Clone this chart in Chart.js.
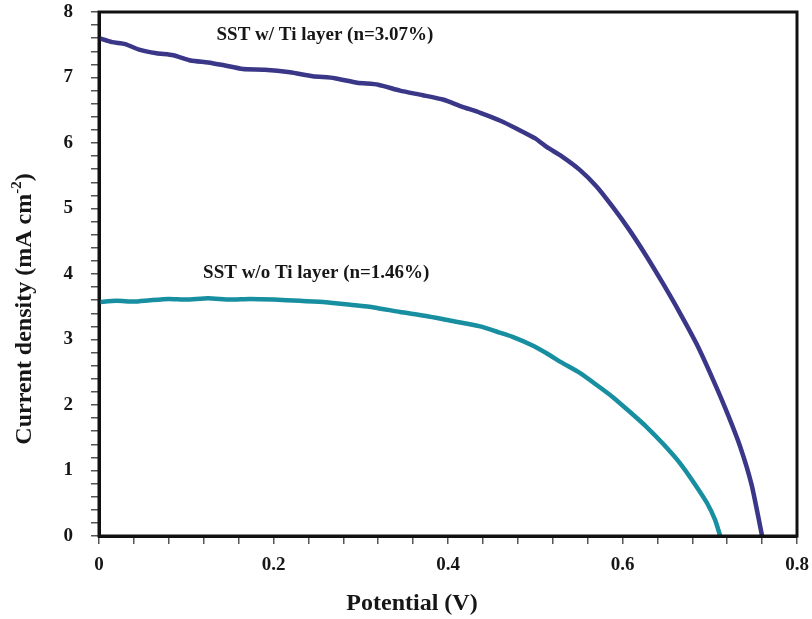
<!DOCTYPE html>
<html>
<head>
<meta charset="utf-8">
<script src="https://cdn.jsdelivr.net/npm/chart.js@4.4.0/dist/chart.umd.min.js"></script>
<style>
  html, body { margin: 0; padding: 0; background: #fff; }
  #wrap { width: 812px; height: 619px; }
</style>
</head>
<body>
<div id="wrap"><canvas id="jvChart"></canvas></div>
<script>
// J-V curves: potential (V) vs current density (mA cm-2)
const withTiV = [0.000, 0.015, 0.030, 0.045, 0.066, 0.085, 0.105, 0.125, 0.142, 0.165,
                 0.190, 0.219, 0.245, 0.270, 0.296, 0.320, 0.345, 0.371, 0.395, 0.415,
                 0.437, 0.460, 0.480, 0.500, 0.513, 0.530, 0.551, 0.570, 0.589, 0.608,
                 0.628, 0.647, 0.666, 0.685, 0.704, 0.720, 0.735, 0.748, 0.760];
const withTiJ = [7.60, 7.54, 7.51, 7.43, 7.37, 7.34, 7.26, 7.23, 7.19, 7.13,
                 7.12, 7.08, 7.02, 6.99, 6.92, 6.89, 6.80, 6.73, 6.66, 6.56,
                 6.46, 6.34, 6.21, 6.07, 5.94, 5.80, 5.59, 5.34, 5.02, 4.67,
                 4.26, 3.84, 3.40, 2.93, 2.38, 1.88, 1.36, 0.78, 0.00];

const withoutTiV = [0.000, 0.020, 0.040, 0.058, 0.080, 0.100, 0.125, 0.150, 0.173, 0.200,
                    0.230, 0.260, 0.288, 0.315, 0.345, 0.375, 0.402, 0.437, 0.458, 0.474,
                    0.495, 0.513, 0.530, 0.551, 0.570, 0.589, 0.608, 0.628, 0.647, 0.666,
                    0.682, 0.697, 0.706, 0.712];
const withoutTiJ = [3.57, 3.59, 3.58, 3.60, 3.62, 3.61, 3.63, 3.61, 3.62, 3.61,
                    3.59, 3.57, 3.53, 3.49, 3.42, 3.36, 3.29, 3.20, 3.11, 3.04,
                    2.92, 2.79, 2.65, 2.49, 2.31, 2.12, 1.90, 1.66, 1.40, 1.11,
                    0.81, 0.50, 0.25, 0.00];

const curveNames = ['SST w/ Ti layer (n=3.07%)', 'SST w/o Ti layer (n=1.46%)'];
const xTickLabels = ['0', '0.2', '0.4', '0.6', '0.8'];
const yTickLabels = ['0', '1', '2', '3', '4', '5', '6', '7', '8'];

const serif = "'Liberation Serif', 'Times New Roman', serif";

const toPoints = (xs, ys) => xs.map((v, i) => ({ x: v, y: ys[i] }));

// box frame, curve names and axis titles
const frameAndTitles = {
    id: 'frameAndTitles',
    afterDraw(chart) {
        const { ctx, chartArea: a } = chart;
        const xs = chart.scales.x, ys = chart.scales.y;
        ctx.save();
        ctx.strokeStyle = '#111';
        ctx.lineWidth = 3;
        ctx.strokeRect(a.left, a.top, a.right - a.left, a.bottom - a.top);

        ctx.fillStyle = '#161616';
        ctx.textAlign = 'center';
        ctx.textBaseline = 'middle';
        ctx.font = 'bold 19px ' + serif;
        const namePos = [[0.259, 7.65], [0.249, 4.02]];
        curveNames.forEach((t, i) => {
            ctx.fillText(t, xs.getPixelForValue(namePos[i][0]), ys.getPixelForValue(namePos[i][1]));
        });

        ctx.font = 'bold 24px ' + serif;
        ctx.fillText('Potential (V)', 412, 604);

        // rotated y title with superscript
        ctx.translate(25, 309);
        ctx.rotate(-Math.PI / 2);
        ctx.textAlign = 'left';
        const main = 'Current density (mA cm', sup = '-2', tail = ')';
        ctx.font = 'bold 24px ' + serif;
        const wMain = ctx.measureText(main).width, wTail = ctx.measureText(tail).width;
        ctx.font = 'bold 15px ' + serif;
        const wSup = ctx.measureText(sup).width;
        const x0 = -(wMain + wSup + wTail) / 2;
        ctx.font = 'bold 24px ' + serif;
        ctx.fillText(main, x0, 0);
        ctx.font = 'bold 15px ' + serif;
        ctx.fillText(sup, x0 + wMain, -8);
        ctx.font = 'bold 24px ' + serif;
        ctx.fillText(tail, x0 + wMain + wSup, 0);
        ctx.restore();
    }
};

const jvChart = new Chart('jvChart', {
    type: 'line',
    data: {
        datasets: [{
            label: curveNames[0],
            data: toPoints(withTiV, withTiJ),
            borderColor: '#3a3688',
            borderWidth: 4.5,
            pointRadius: 0,
            tension: 0.2
        }, {
            label: curveNames[1],
            data: toPoints(withoutTiV, withoutTiJ),
            borderColor: '#178fa0',
            borderWidth: 4.5,
            pointRadius: 0,
            tension: 0.2
        }]
    },
    options: {
        responsive: true,
        maintainAspectRatio: false,
        animation: false,
        layout: { padding: { top: 12, right: 15, left: 0, bottom: 0 } },
        plugins: {
            legend: { display: false },
            tooltip: { enabled: false }
        },
        scales: {
            x: {
                type: 'linear',
                min: 0, max: 0.8,
                afterFit: s => { s.height = 83; s.paddingLeft = 0; s.paddingRight = 0; },
                border: { display: true, color: '#111', width: 3 },
                grid: { drawOnChartArea: false, drawTicks: true, tickLength: 8, color: '#555', lineWidth: 1.5 },
                ticks: {
                    stepSize: 0.04,
                    autoSkip: false,
                    maxTicksLimit: 100,
                    maxRotation: 0,
                    padding: 10,
                    color: '#161616',
                    font: { family: serif, size: 19, weight: 'bold' },
                    callback: v => {
                        const i = Math.round(v / 0.2);
                        return Math.abs(v - i * 0.2) < 1e-6 ? xTickLabels[i] : '';
                    }
                }
            },
            y: {
                min: 0, max: 8,
                afterFit: s => { s.width = 99; s.paddingTop = 0; s.paddingBottom = 0; },
                border: { display: true, color: '#111', width: 3 },
                grid: { drawOnChartArea: false, drawTicks: true, tickLength: 8, color: '#555', lineWidth: 1.5 },
                ticks: {
                    stepSize: 0.2,
                    autoSkip: false,
                    maxTicksLimit: 100,
                    padding: 18,
                    color: '#161616',
                    font: { family: serif, size: 19, weight: 'bold' },
                    callback: v => {
                        const i = Math.round(v);
                        return Math.abs(v - i) < 1e-6 ? yTickLabels[i] : '';
                    }
                }
            }
        }
    },
    plugins: [frameAndTitles]
});
</script>
</body>
</html>
